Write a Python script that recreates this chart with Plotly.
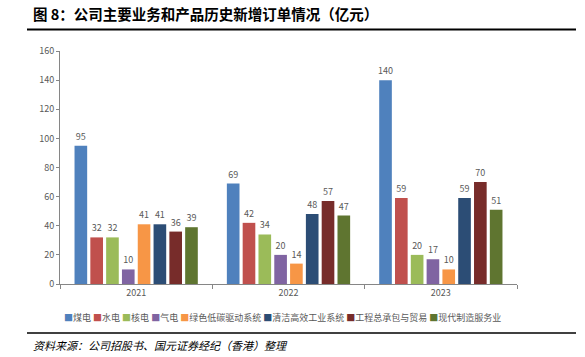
import plotly.graph_objects as go

years = ["2021", "2022", "2023"]
series_names = ["煤电", "水电", "核电", "气电", "绿色低碳驱动系统", "清洁高效工业系统", "工程总承包与贸易", "现代制造服务业"]
v_coal = [95, 69, 140]
v_hydro = [32, 42, 59]
v_nuclear = [32, 34, 20]
v_gas = [10, 20, 17]
v_green = [41, 14, 10]
v_clean = [41, 48, 59]
v_epc = [36, 57, 70]
v_service = [39, 47, 51]
series_values = [v_coal, v_hydro, v_nuclear, v_gas, v_green, v_clean, v_epc, v_service]
colors = ["#4F81BD", "#C0504D", "#9BBB59", "#8064A2", "#F79646", "#2C4D75", "#772C2A", "#5F7530"]
y_ticks = [0, 20, 40, 60, 80, 100, 120, 140, 160]

W, H = 585, 357
L, R, T, B = 60, 517, 51, 284

def px(x):
    return (x - L) / (R - L)

def py(y):
    return (B - y) / (B - T)

FONT = "Noto Sans CJK SC"
fig = go.Figure()
for name, vals, c in zip(series_names, series_values, colors):
    fig.add_trace(go.Bar(
        x=years, y=vals, name=name, marker=dict(color=c, line=dict(width=0)),
        text=[str(v) for v in vals], textposition="outside",
        textfont=dict(size=9, color="#595959", family=FONT),
        cliponaxis=False, showlegend=False,
    ))

fig.update_layout(
    width=W, height=H,
    margin=dict(l=L, r=W - R, t=T, b=H - B),
    paper_bgcolor="white", plot_bgcolor="white",
    barmode="group", bargap=0.17, bargroupgap=0.2,
    uniformtext=dict(minsize=9, mode="show"),
    font=dict(family=FONT, size=9, color="#595959"),
    xaxis=dict(showline=True, linecolor="#868686", linewidth=1, ticks="outside",
               ticklen=4, tickcolor="#868686", tickson="boundaries",
               tickfont=dict(size=9, color="#595959"), showgrid=False),
    yaxis=dict(range=[0, 160], tickvals=y_ticks, showline=True, linecolor="#868686",
               linewidth=1, ticks="outside", ticklen=3, tickcolor="#868686",
               showgrid=False, zeroline=False,
               tickfont=dict(size=9, color="#595959")),
)

# title
fig.add_annotation(xref="paper", yref="paper", x=px(31), y=py(14), xanchor="left",
                   yanchor="middle", showarrow=False,
                   text="<b>图 8：公司主要业务和产品历史新增订单情况（亿元）</b>",
                   font=dict(size=14.5, color="black", family=FONT))
fig.add_shape(type="line", xref="paper", yref="paper", x0=px(27), x1=px(576),
              y0=py(29.5), y1=py(29.5), line=dict(color="black", width=2))

# legend
parts = []
for name, c in zip(series_names, colors):
    parts.append(f"<span style='color:{c}'>■</span>{name}")
fig.add_annotation(xref="paper", yref="paper", x=px(282), y=py(317), xanchor="center",
                   yanchor="middle", showarrow=False, text=" ".join(parts),
                   font=dict(size=9, color="#595959", family=FONT))

# source
fig.add_shape(type="line", xref="paper", yref="paper", x0=px(27), x1=px(576),
              y0=py(333), y1=py(333), line=dict(color="black", width=1.5))
fig.add_annotation(xref="paper", yref="paper", x=px(31), y=py(345), xanchor="left",
                   yanchor="middle", showarrow=False,
                   text="资料来源：公司招股书、国元证券经纪（香港）整理",
                   font=dict(size=11, color="black", family=FONT, style="italic"))

fig.write_html("out.html", config={"displayModeBar": False},
               post_script="document.body.style.margin='0';document.body.style.overflow='hidden';")
